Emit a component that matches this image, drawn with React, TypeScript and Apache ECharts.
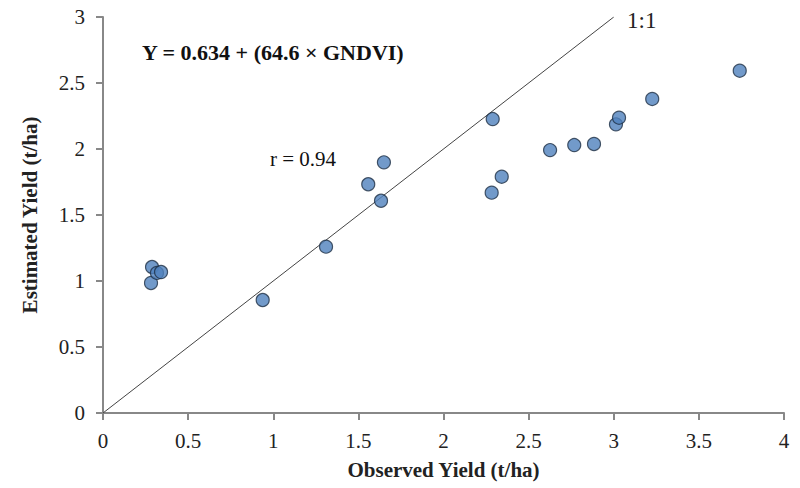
import React, { useEffect, useRef } from "react";
import * as echarts from "echarts";

const observed = [0.288, 0.282, 0.317, 0.341, 0.938, 1.31, 1.558, 1.633, 1.65, 2.289, 2.283, 2.342, 2.626, 2.768, 2.884, 3.013, 3.031, 3.226, 3.74];
const estimated = [1.106, 0.985, 1.061, 1.068, 0.856, 1.26, 1.733, 1.608, 1.899, 2.227, 1.669, 1.79, 1.992, 2.03, 2.038, 2.187, 2.237, 2.379, 2.593];
const oneToOne = [[0, 0], [3, 3]];
const equationText = "Y = 0.634 + (64.6 × GNDVI)";
const rText = "r = 0.94";
const lineLabel = "1:1";

const FONT = "'Liberation Serif', 'Times New Roman', serif";

export default function App() {
  const ref = useRef<HTMLDivElement>(null);
  useEffect(() => {
    if (!ref.current) return;
    const chart = echarts.init(ref.current, null, { renderer: "svg" });
    const points = observed.map((x, i) => [x, estimated[i]]);
    chart.setOption({
      animation: false,
      backgroundColor: "#ffffff",
      textStyle: { fontFamily: FONT },
      grid: { left: 103, right: 16, top: 17, bottom: 75, containLabel: false, outerBoundsMode: "none" },
      xAxis: {
        type: "value",
        min: 0,
        max: 4,
        interval: 0.5,
        name: "Observed Yield (t/ha)",
        nameLocation: "middle",
        nameGap: 46,
        nameTextStyle: { fontFamily: FONT, fontWeight: "bold", fontSize: 21, color: "#222" },
        axisLine: { show: true, lineStyle: { color: "#888", width: 2 } },
        axisTick: { show: true, length: 7, lineStyle: { color: "#888", width: 2 } },
        axisLabel: { fontFamily: FONT, fontSize: 21, color: "#222", margin: 17 },
        splitLine: { show: false },
      },
      yAxis: {
        type: "value",
        min: 0,
        max: 3,
        interval: 0.5,
        name: "Estimated Yield (t/ha)",
        nameLocation: "middle",
        nameGap: 63,
        nameRotate: 90,
        nameTextStyle: { fontFamily: FONT, fontWeight: "bold", fontSize: 21, color: "#222" },
        axisLine: { show: true, lineStyle: { color: "#888", width: 2 } },
        axisTick: { show: true, length: 7, lineStyle: { color: "#888", width: 2 } },
        axisLabel: { fontFamily: FONT, fontSize: 21, color: "#222", margin: 18 },
        splitLine: { show: false },
      },
      series: [
        {
          type: "line",
          data: oneToOne,
          symbol: "none",
          lineStyle: { color: "#444", width: 1 },
          z: 1,
        },
        {
          type: "scatter",
          data: points,
          symbol: "circle",
          symbolSize: 13,
          itemStyle: { color: "#4F81BD", borderColor: "#1e2f45", borderWidth: 1.2 },
          z: 3,
        },
      ],
      graphic: [
        {
          type: "text",
          left: 142,
          top: 41,
          style: { text: equationText, font: `bold 22px ${FONT}`, fill: "#111" },
        },
        {
          type: "text",
          left: 270,
          top: 148,
          style: { text: rText, font: `21px ${FONT}`, fill: "#111" },
        },
        {
          type: "text",
          left: 627,
          top: 9,
          style: { text: lineLabel, font: `23px ${FONT}`, fill: "#222" },
        },
      ],
    });
    return () => chart.dispose();
  }, []);
  return <div ref={ref} style={{ width: 800, height: 488, margin: "-8px 0 0 -8px" }} />;
}
